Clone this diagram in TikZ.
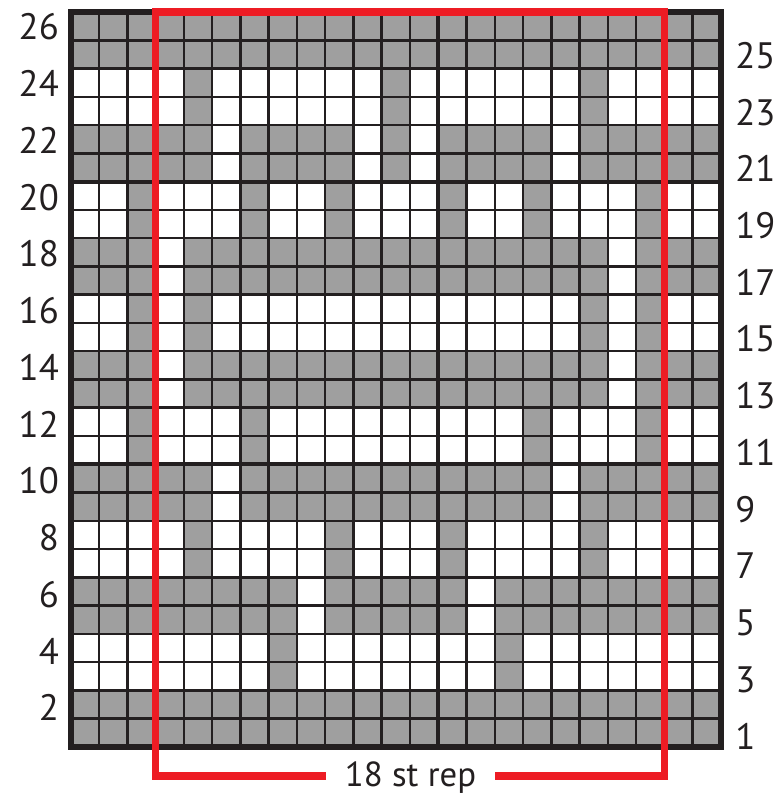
\documentclass[tikz,border=0pt]{standalone}
\usepackage{fontspec}
\setmainfont{PT Sans}
\definecolor{cellgray}{HTML}{9F9F9F}
\definecolor{inkblack}{HTML}{231F20}
\definecolor{repred}{HTML}{ED1C24}
\tikzset{
  thinline/.style={draw=inkblack, line width=2.5pt},
  tenline/.style={draw=inkblack, line width=4.2pt},
  borderline/.style={draw=inkblack, line width=6pt, line join=miter},
  redline/.style={draw=repred, line width=7.5pt, line join=miter},
  lbl/.style={inner sep=0pt, text=inkblack, font=\fontsize{37}{40}\selectfont},
  replbl/.style={inner sep=0pt, text=inkblack, font=\fontsize{35}{38}\selectfont}
}
\begin{document}
\begin{tikzpicture}
\useasboundingbox (-2.503,-1.70) rectangle (25.17,26.425);
% white ground
\fill[white] (0,0) rectangle (23,26);
% gray bands (row pairs with gray base)
\foreach \y in {0,4,8,12,16,20,24} \fill[cellgray] (0,\y) rectangle (23,\y+2);
% white cells in gray bands
\foreach \y/\cols in {4/{9,15},8/{6,18},12/{4,20},16/{4,20},20/{6,11,13,18}}
  \foreach \c in \cols \fill[white] (\c-1,\y) rectangle (\c,\y+2);
% gray cells in white bands
\foreach \y/\cols in {2/{8,16},6/{5,10,14,19},10/{3,7,17,21},14/{3,5,19,21},18/{3,7,10,14,17,21},22/{5,12,19}}
  \foreach \c in \cols \fill[cellgray] (\c-1,\y) rectangle (\c,\y+2);
% grid
\draw[thinline] (0,0) grid (23,26);
\draw[tenline] (13,0) -- (13,26);
\draw[tenline] (3,0) -- (3,26);
\draw[tenline] (0,10) -- (23,10);
\draw[tenline] (0,20) -- (23,20);
\draw[borderline] (0,0) rectangle (23,26);
% row numbers
\foreach \r in {2,4,...,26}
  \node[lbl, anchor=base east] (L\r) at (-0.416,{\r-0.5-(13.8+(26-\r)*0.1)/28.26}) {\r};
\foreach \r in {1,3,...,25}
  \node[lbl, anchor=base west] (R\r) at (23.505,{\r-0.5-(13.8+(26-\r)*0.1)/28.26}) {\r};
% repeat box
\node[replbl, anchor=base] (rep) at (12.02,-1.415) {18 st rep};
\coordinate (redL) at (9.03,-1.026);
\coordinate (redR) at (15.01,-1.026);
\draw[redline] (redL) -| (3,26) -| (21,-1.026) -- (redR);
\end{tikzpicture}
\end{document}
